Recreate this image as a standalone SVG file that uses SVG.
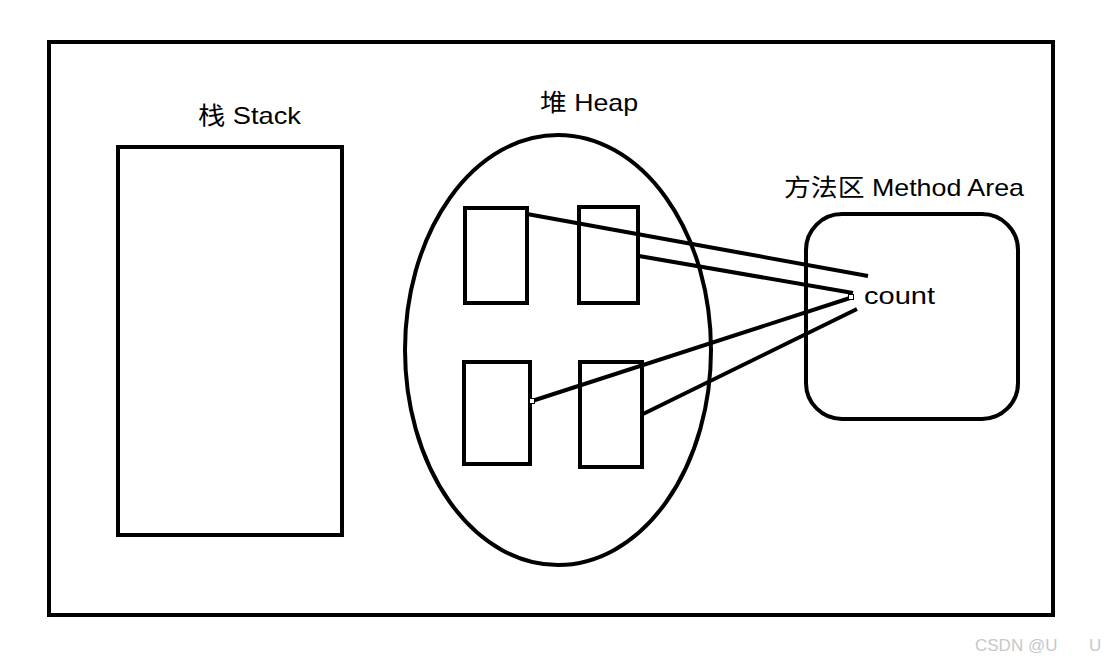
<svg xmlns="http://www.w3.org/2000/svg" width="1113" height="664" viewBox="0 0 1113 664">
<style>
.s{fill:none;stroke:#000;stroke-width:4}
.t{font-family:"Liberation Sans","Noto Sans CJK SC",sans-serif;font-size:24px;fill:#000}
.c{stroke:#000;stroke-width:4;fill:none}
.p{fill:#fff;stroke:#000;stroke-width:1}
.w{font-family:"Liberation Sans",sans-serif;font-size:17px;fill:#c8c8c8}
</style>
<rect width="1113" height="664" fill="#fff"/>
<g id="frame"><rect class="s" x="49" y="42" width="1004" height="573"/></g>
<g id="stack">
<rect class="s" x="118" y="147" width="224" height="388" stroke-width="3"/>
<text class="t" x="198" y="124" textLength="103" lengthAdjust="spacingAndGlyphs">栈 Stack</text>
</g>
<g id="heap">
<ellipse class="s" cx="558" cy="350" rx="153" ry="215" stroke-width="3.5"/>
<text class="t" x="540" y="111" textLength="98" lengthAdjust="spacingAndGlyphs">堆 Heap</text>
<rect class="s" x="465" y="208" width="62" height="95"/>
<rect class="s" x="579" y="207" width="59" height="96"/>
<rect class="s" x="464" y="362" width="66" height="102"/>
<rect class="s" x="580" y="362" width="62" height="105"/>
</g>
<g id="method-area">
<rect class="s" x="806" y="214" width="212" height="205" rx="36"/>
<text class="t" x="784" y="196" textLength="240" lengthAdjust="spacingAndGlyphs">方法区 Method Area</text>
<text class="t" x="864" y="304" font-size="27" textLength="71" lengthAdjust="spacingAndGlyphs">count</text>
</g>
<g id="connectors">
<line class="c" x1="527" y1="214" x2="868" y2="276"/>
<line class="c" x1="639" y1="256" x2="853" y2="293"/>
<line class="c" x1="532" y1="401" x2="850" y2="298"/>
<line class="c" x1="641" y1="415" x2="857" y2="309"/>
<rect class="p" x="529.5" y="398.5" width="5" height="5"/>
<rect class="p" x="848.5" y="294.5" width="5" height="5"/>
</g>
<text class="w" x="975" y="651">CSDN @U</text>
<text class="w" x="1089" y="651">U</text>
</svg>
